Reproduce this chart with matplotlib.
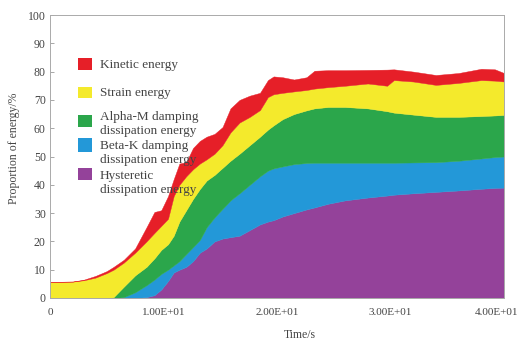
import matplotlib
matplotlib.use('Agg')
import matplotlib.pyplot as plt
from matplotlib.patches import Rectangle
from matplotlib.transforms import ScaledTranslation

# Energy proportions (%) over time, one list per component (stacked bottom -> top)
time = [0, 2, 3, 4, 5, 5.6, 6.5, 7.5, 8.5, 9.2, 9.8, 10.4, 10.9, 11.4, 12.0, 12.6,
        13.2, 13.8, 14.5, 15.2, 15.9, 16.7, 17.6, 18.5, 19.2, 19.7, 20.5, 21.5,
        22.6, 23.3, 24.5, 26, 28, 29.7, 30.3, 32, 34, 36, 38, 39.2, 40]
hysteretic = [0, 0, 0, 0, 0, 0, 0, 0, 0.3, 1, 3, 6, 9, 10, 11, 13,
              16, 17.5, 20, 21, 21.5, 22, 24, 26, 27, 27.5, 28.8, 30,
              31.3, 32, 33.3, 34.5, 35.5, 36.2, 36.5, 37, 37.5, 38, 38.6, 38.9, 39]
beta_k = [0, 0, 0, 0, 0, 0, 0.3, 2, 4.2, 5.5, 5.5, 4, 2.5, 3, 4.5, 5,
          4.5, 7.5, 8.5, 10.5, 13, 15, 16, 17, 18, 18.3, 17.7, 17.3,
          16.4, 15.8, 14.5, 13.3, 12.3, 11.6, 11.3, 10.9, 10.5, 10.5, 10.7, 10.9, 11]
alpha_m = [0, 0, 0, 0, 0, 0.3, 3.7, 6, 6.5, 7.5, 8.5, 9, 10.5, 14, 15.5, 17,
           18, 16.5, 15, 14.5, 14, 14, 14, 14, 14.5, 15.2, 16.7, 17.7,
           18.6, 19.2, 19.7, 19.7, 19.2, 18.2, 17.7, 16.9, 16, 15.5, 15, 14.7, 14.7]
strain = [5.7, 5.8, 6.3, 7.2, 8.8, 9.7, 8.5, 8, 9, 9, 8.5, 9, 14, 13, 12, 10.5,
          9, 7.5, 7.5, 8, 10, 11, 10, 9.4, 11.5, 11, 9.3, 8,
          7.2, 7, 7, 7.5, 8.8, 9, 11.5, 11.7, 11.3, 12, 12.7, 12.3, 11.8]
kinetic = [0, 0, 0.2, 0.6, 0.7, 1.0, 1.0, 1.5, 5, 7.4, 5.5, 8, 6, 7.5, 5, 7.5,
           8, 8, 7, 6.4, 8.5, 8, 7.5, 6.1, 6, 6.3, 5.5, 4.2,
           4.5, 6.3, 6, 5.5, 4.8, 5.7, 3.8, 3.5, 3.5, 3.5, 4, 4, 3]

labels = ['Hysteretic\ndissipation energy', 'Beta-K damping\ndissipation energy',
          'Alpha-M damping\ndissipation energy', 'Strain energy', 'Kinetic energy']
colors = ['#94429a', '#2398d8', '#2ba64b', '#f4ea2c', '#e61f28']

xticks = [0, 10, 20, 30, 40]
xtick_labels = ['0', '1.00E+01', '2.00E+01', '3.00E+01', '4.00E+01']
yticks = list(range(0, 101, 10))

plt.rcParams['font.family'] = ['Liberation Serif', 'DejaVu Serif']

W, H = 520, 343
fig = plt.figure(figsize=(W / 100, H / 100), dpi=100)
ax = fig.add_axes([50 / W, 1 - 298 / H, 454 / W, 283 / H])

ax.stackplot(time, hysteretic, beta_k, alpha_m, strain, kinetic,
             colors=colors, linewidth=0.3, edgecolor='face')

ax.set_xlim(0, 40)
ax.set_ylim(0, 100)
ax.set_xticks(xticks)
ax.set_xticklabels(xtick_labels)
ax.set_yticks(yticks)
ax.tick_params(axis='x', length=0, pad=7, labelsize=8, labelcolor='#444')
ax.tick_params(axis='y', direction='in', length=3, width=0.6, color='#999',
               pad=3, labelsize=8.5, labelcolor='#444')
for s in ax.spines.values():
    s.set_color('#aaa')
    s.set_linewidth(0.7)

# last x label sits against the right edge, nudge it inward
last = ax.get_xticklabels()[-1]
last.set_transform(last.get_transform() + ScaledTranslation(-8 / 100, 0, fig.dpi_scale_trans))

ax.set_xlabel('Time/s', fontsize=8.5, color='#444')
ax.xaxis.set_label_coords(0.55, -0.11)
ax.set_ylabel('Proportion of energy/%', fontsize=8.5, color='#444')
ax.yaxis.set_label_coords(-0.066, 0.53)

# hand-placed legend (pixel positions converted to figure fractions)
def fx(x): return x / W
def fy(y): return 1 - y / H

entries = [  # (layer index, square top, square bottom, text centre)
    (4, 58, 70, 65),
    (3, 87, 98, 93),
    (2, 115, 127, 124),
    (1, 138, 152, 153),
    (0, 168, 180, 183),
]
for i, top, bot, ty in entries:
    fig.patches.append(Rectangle((fx(78), fy(bot)), fx(92) - fx(78), fy(top) - fy(bot),
                                 transform=fig.transFigure, facecolor=colors[i],
                                 edgecolor='none', zorder=5))
    fig.text(fx(100), fy(ty), labels[i], fontsize=9.5, color='#444',
             va='center', ha='left', linespacing=1.15, zorder=6)

fig.savefig('out.png', dpi=100)
